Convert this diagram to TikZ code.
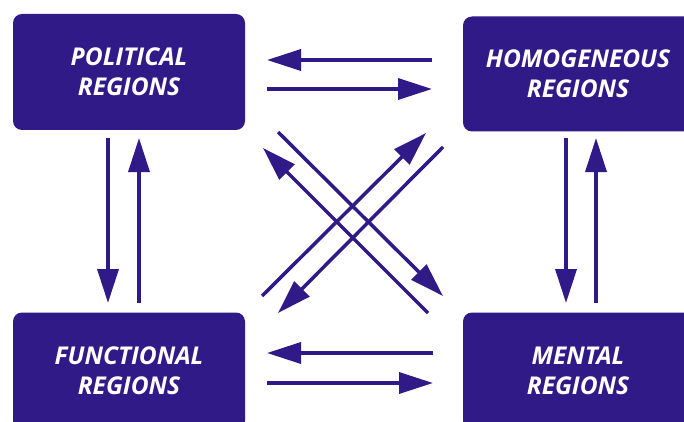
\documentclass[tikz,border=0pt]{standalone}
\usepackage{fontspec}
\setmainfont{Open Sans}
\usetikzlibrary{arrows.meta}
\definecolor{regpurple}{HTML}{301A88}
\tikzset{
  region/.style={fill=regpurple, rounded corners=9pt, inner sep=0pt, text=white,
    font=\fontsize{24.5}{30}\selectfont\bfseries\itshape, align=center},
  link/.style={draw=regpurple, line width=3.5pt, -{Triangle[length=34pt,width=21pt]}},
}
\begin{document}
\begin{tikzpicture}[x=1pt,y=-1pt]
\useasboundingbox (0,0) rectangle (684,422);
\clip (0,0) rectangle (684,422);
\fill[white] (0,0) rectangle (684,422);
% boxes
\node[region, minimum width=232pt, minimum height=116pt] (pol) at (129,72) {POLITICAL\\REGIONS};
\node[region, minimum width=230pt, minimum height=115pt] (hom) at (578,74) {HOMOGENEOUS\\REGIONS};
\node[region, minimum width=232pt, minimum height=117pt] (fun) at (129,371) {FUNCTIONAL\\REGIONS};
\node[region, minimum width=230pt, minimum height=117pt] (men) at (578,371) {MENTAL\\REGIONS};
% endpoints
\coordinate (t1a) at (432,60); \coordinate (t1b) at (267,60);
\coordinate (t2a) at (267,89); \coordinate (t2b) at (432,89);
\coordinate (b1a) at (433,353); \coordinate (b1b) at (267,353);
\coordinate (b2a) at (267,383); \coordinate (b2b) at (433,383);
\coordinate (l1a) at (108,138); \coordinate (l1b) at (108,303);
\coordinate (l2a) at (139,303); \coordinate (l2b) at (139,138);
\coordinate (r1a) at (566,138); \coordinate (r1b) at (566,303);
\coordinate (r2a) at (596,303); \coordinate (r2b) at (596,138);
\coordinate (d1a) at (278,132); \coordinate (d1b) at (443,296);
\coordinate (d2a) at (428,313); \coordinate (d2b) at (263,148);
\coordinate (d3a) at (262,296); \coordinate (d3b) at (426,133);
\coordinate (d4a) at (443,147); \coordinate (d4b) at (278,313);
% arrows
\draw[link] (t1a) -- (t1b);
\draw[link] (t2a) -- (t2b);
\draw[link] (b1a) -- (b1b);
\draw[link] (b2a) -- (b2b);
\draw[link] (l1a) -- (l1b);
\draw[link] (l2a) -- (l2b);
\draw[link] (r1a) -- (r1b);
\draw[link] (r2a) -- (r2b);
\draw[link] (d1a) -- (d1b);
\draw[link] (d2a) -- (d2b);
\draw[link] (d3a) -- (d3b);
\draw[link] (d4a) -- (d4b);
\end{tikzpicture}
\end{document}
